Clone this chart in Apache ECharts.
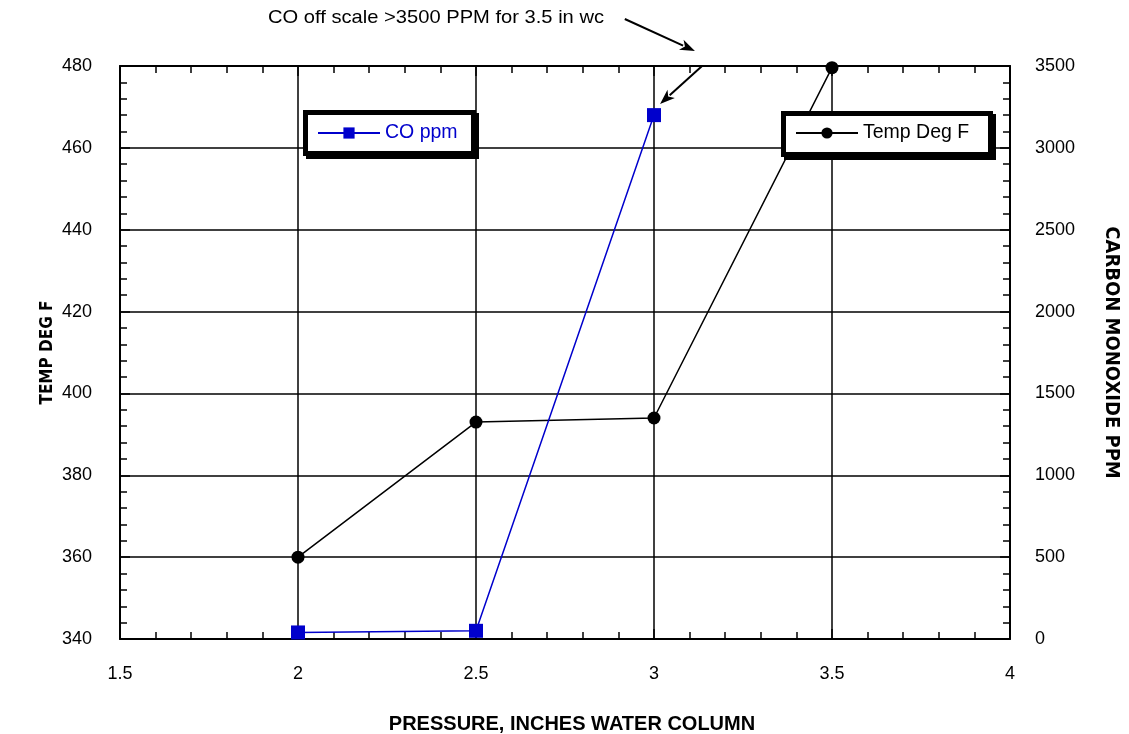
<!DOCTYPE html>
<html><head><meta charset="utf-8">
<script src="https://cdn.jsdelivr.net/npm/echarts@6/dist/echarts.min.js"></script>
<style>html,body{margin:0;padding:0;background:#fff}#c{width:1129px;height:734px}</style>
</head><body><div id="c"></div>
<script>
const pressure = [2, 2.5, 3, 3.5];
const tempDegF = [360, 393, 394, 479.6];
const coPpm = [40, 50, 3200, null];
const xTicks = {min: 1.5, max: 4, interval: 0.5};
const tempTicks = {min: 340, max: 480, interval: 20};
const coTicks = {min: 0, max: 3500, interval: 500};
const noteText = 'CO off scale >3500 PPM for 3.5 in wc';
// annotation arrows in data space [pressure, CO ppm]
const arrow1 = [[2.918, 3787], [3.115, 3592]];
const arrow2 = [[3.135, 3500], [3.017, 3268]];

const FONT = 'Liberation Sans, Arial, sans-serif';
const NARROW = 'Liberation Sans Narrow, DejaVu Sans Condensed, ' + FONT;
const chart = echarts.init(document.getElementById('c'), null, {renderer: 'canvas'});
const axisLineStyle = {color: '#000', width: 2};
const tickStyle = {color: '#000', width: 1.5};
const label = {color: '#000', fontFamily: FONT, fontSize: 18};

chart.setOption({
  animation: false,
  backgroundColor: '#fff',
  grid: {left: 120, right: 119, top: 66, bottom: 95, containLabel: false, outerBoundsMode: 'none'},
  xAxis: [{
    type: 'value', position: 'bottom', min: xTicks.min, max: xTicks.max, interval: xTicks.interval,
    axisLine: {show: true, onZero: false, lineStyle: axisLineStyle},
    axisTick: {show: true, inside: true, length: 10, lineStyle: tickStyle},
    minorTick: {show: true, splitNumber: 5, length: 7, lineStyle: tickStyle},
    splitLine: {show: true, lineStyle: {color: '#000', width: 1.5}},
    axisLabel: Object.assign({margin: 26}, label),
    name: 'PRESSURE, INCHES WATER COLUMN', nameLocation: 'middle', nameGap: 75, nameMoveOverlap: false,
    nameTextStyle: {fontFamily: FONT, fontSize: 20, fontWeight: 'bold', color: '#000', padding: [0, 0, 0, 14]}
  }, {
    type: 'value', position: 'top', min: xTicks.min, max: xTicks.max, interval: xTicks.interval,
    axisLine: {show: true, onZero: false, lineStyle: axisLineStyle},
    axisTick: {show: true, inside: true, length: 10, lineStyle: tickStyle},
    minorTick: {show: true, splitNumber: 5, length: 7, lineStyle: tickStyle},
    splitLine: {show: false}, axisLabel: {show: false}
  }],
  yAxis: [{
    type: 'value', position: 'left', min: tempTicks.min, max: tempTicks.max, interval: tempTicks.interval,
    axisLine: {show: true, onZero: false, lineStyle: axisLineStyle},
    axisTick: {show: true, inside: true, length: 10, lineStyle: tickStyle},
    minorTick: {show: true, splitNumber: 5, length: 7, lineStyle: tickStyle},
    splitLine: {show: true, lineStyle: {color: '#000', width: 1.5}},
    axisLabel: Object.assign({margin: 28}, label),
    name: 'TEMP DEG F', nameLocation: 'middle', nameGap: 64, nameRotate: 90, nameMoveOverlap: false,
    nameTextStyle: {fontFamily: NARROW, fontSize: 17, fontWeight: 'bold', color: '#000'}
  }, {
    type: 'value', position: 'right', min: coTicks.min, max: coTicks.max, interval: coTicks.interval,
    axisLine: {show: true, onZero: false, lineStyle: axisLineStyle},
    axisTick: {show: true, inside: true, length: 10, lineStyle: tickStyle},
    minorTick: {show: true, splitNumber: 5, length: 7, lineStyle: tickStyle},
    splitLine: {show: false},
    axisLabel: Object.assign({margin: 25, formatter: v => String(v)}, label),
    name: 'CARBON MONOXIDE PPM', nameLocation: 'middle', nameGap: 91, nameRotate: -90,
    nameTextStyle: {fontFamily: NARROW, fontSize: 20, fontWeight: 'bold', color: '#000'}
  }],
  legend: [{
    data: ['CO ppm'], left: 317, top: 123, orient: 'horizontal', selectedMode: false,
    padding: 0, itemWidth: 62, itemHeight: 14, z: 20,
    textStyle: {color: '#0000CC', fontFamily: FONT, fontSize: 19.5}
  }, {
    data: ['Temp Deg F'], left: 795, top: 123, orient: 'horizontal', selectedMode: false,
    padding: 0, itemWidth: 62, itemHeight: 14, z: 20,
    textStyle: {color: '#000', fontFamily: FONT, fontSize: 19.5}
  }],
  series: [{
    name: 'Temp Deg F', type: 'line', xAxisIndex: 0, yAxisIndex: 0,
    data: pressure.map((p, i) => [p, tempDegF[i]]),
    symbol: 'circle', symbolSize: 13,
    lineStyle: {color: '#000', width: 1.5}, itemStyle: {color: '#000'}, z: 3
  }, {
    name: 'CO ppm', type: 'line', xAxisIndex: 0, yAxisIndex: 1,
    data: pressure.map((p, i) => [p, coPpm[i]]).filter(d => d[1] != null),
    symbol: 'rect', symbolSize: 14,
    lineStyle: {color: '#0000CC', width: 1.5}, itemStyle: {color: '#0000CC'}, z: 4
  }]
});

function legendBox(L, T, W, H) {
  return [
    {type: 'rect', shape: {x: L + 3, y: T + 3, width: W, height: H}, style: {fill: '#000'}, z: 10},
    {type: 'rect', shape: {x: L, y: T, width: W, height: H}, style: {fill: '#000'}, z: 10},
    {type: 'rect', shape: {x: L + 5, y: T + 5, width: W - 10, height: H - 10}, style: {fill: '#fff'}, z: 11}
  ];
}
function arrowGraphic(a) {
  const p0 = chart.convertToPixel({xAxisIndex: 0, yAxisIndex: 1}, a[0]);
  const p1 = chart.convertToPixel({xAxisIndex: 0, yAxisIndex: 1}, a[1]);
  const dx = p1[0] - p0[0], dy = p1[1] - p0[1];
  const len = Math.hypot(dx, dy), ux = dx / len, uy = dy / len;
  const hl = 15, hw = 5.5;
  const bx = p1[0] - ux * hl, by = p1[1] - uy * hl;
  return [{
    type: 'line', shape: {x1: p0[0], y1: p0[1], x2: bx + ux * 2, y2: by + uy * 2},
    style: {stroke: '#000', lineWidth: 2}, z: 100
  }, {
    type: 'polygon',
    shape: {points: [[p1[0], p1[1]], [bx - uy * hw, by + ux * hw], [bx + ux * 4, by + uy * 4], [bx + uy * hw, by - ux * hw]]},
    style: {fill: '#000'}, z: 100
  }];
}
chart.setOption({
  graphic: [
    {type: 'text', x: 268, y: 8, scaleX: 1.06, style: {text: noteText, fill: '#000', font: '19px ' + FONT}, z: 100}
  ].concat(legendBox(303, 110, 173, 46), legendBox(781, 111, 212, 46), arrowGraphic(arrow1), arrowGraphic(arrow2))
});
</script>
</body></html>
